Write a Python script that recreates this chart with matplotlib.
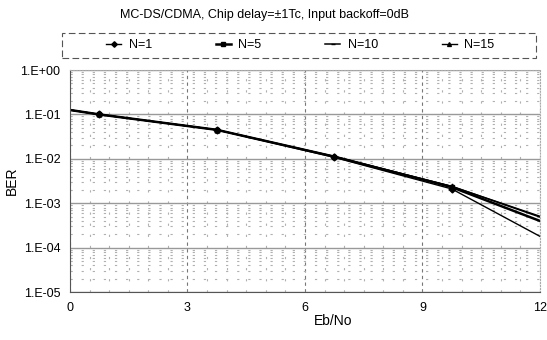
import matplotlib
matplotlib.use('Agg')
import matplotlib.pyplot as plt
import numpy as np
from matplotlib.patches import Rectangle
from matplotlib.ticker import FuncFormatter, LogLocator, MultipleLocator

plt.rcParams['font.family'] = ['Liberation Sans', 'DejaVu Sans']

# Eb/No points and BER for each N
ebno = [0, 0.75, 3.75, 6.75, 9.75, 12]
ber_n1 = [0.126, 0.100, 0.045, 0.0108, 0.0021, 0.00018]
ber_n5 = [0.126, 0.100, 0.045, 0.0112, 0.0023, 0.00040]
ber_n10 = [0.126, 0.100, 0.045, 0.0113, 0.0024, 0.00049]
ber_n15 = [0.126, 0.100, 0.045, 0.0113, 0.0024, 0.00051]
labels = ['N=1', 'N=5', 'N=10', 'N=15']
markers = ['D', 's', '_', '^']
widths = [1.0, 1.8, 1.1, 1.0]

fig = plt.figure(figsize=(5.47, 3.40), dpi=100)
ax = fig.add_axes([0.128, 0.141, 0.859, 0.653])

for ser, lab, mk, lw in zip([ber_n1, ber_n5, ber_n10, ber_n15], labels, markers, widths):
  ax.plot(ebno, ser, color='black', lw=lw, marker=mk, markersize=3.5,
          markevery=slice(1, -1), label=lab)

ax.set_yscale('log')
ax.set_ylim(1e-5, 1)
ax.set_xlim(0, 12)
ax.xaxis.set_major_locator(MultipleLocator(3))
ax.xaxis.set_minor_locator(MultipleLocator(0.5))
ax.yaxis.set_major_locator(LogLocator(base=10, numticks=10))
ax.yaxis.set_minor_locator(LogLocator(base=10, subs=np.arange(2, 10), numticks=20))
ax.yaxis.set_major_formatter(FuncFormatter(lambda v, p: '1.E%+03d' % int(round(np.log10(v)))))
ax.tick_params(which='both', length=0, labelsize=9, pad=7)

ax.grid(True, which='major', axis='y', color='#999999', lw=1.0)
ax.grid(True, which='major', axis='x', color='#777777', lw=0.8, ls=(0, (3, 3)))
ax.grid(True, which='minor', color='#b0b0b0', lw=0.8, ls=(0, (2, 8)))
for s in ['top', 'right']:
  ax.spines[s].set_color('#aaaaaa')
  ax.spines[s].set_linestyle(':')
for s in ['left', 'bottom']:
  ax.spines[s].set_color('#555555')

ax.set_xlabel('Eb/No', fontsize=10)
ax.xaxis.set_label_coords(0.56, -0.1)
ax.set_ylabel('BER', fontsize=10)
ax.yaxis.set_label_coords(-0.108, 0.5)

fig.text(0.483, 0.955, 'MC-DS/CDMA, Chip delay=\u00b11Tc, Input backoff=0dB',
         ha='center', va='center', fontsize=9)

leg = fig.legend(loc='center', bbox_to_anchor=(0.549, 1 - 45 / 340), ncol=4,
                 fontsize=9, frameon=False, handlelength=1.2, handletextpad=0.6,
                 columnspacing=5.1, markerscale=0.8)
fig.add_artist(Rectangle((62 / 547, 1 - 58 / 340), 474 / 547, 25 / 340,
                         transform=fig.transFigure, fill=False, ec='#555555',
                         lw=0.8, ls=(0, (6, 3))))

plt.savefig('out.png', dpi=100)
